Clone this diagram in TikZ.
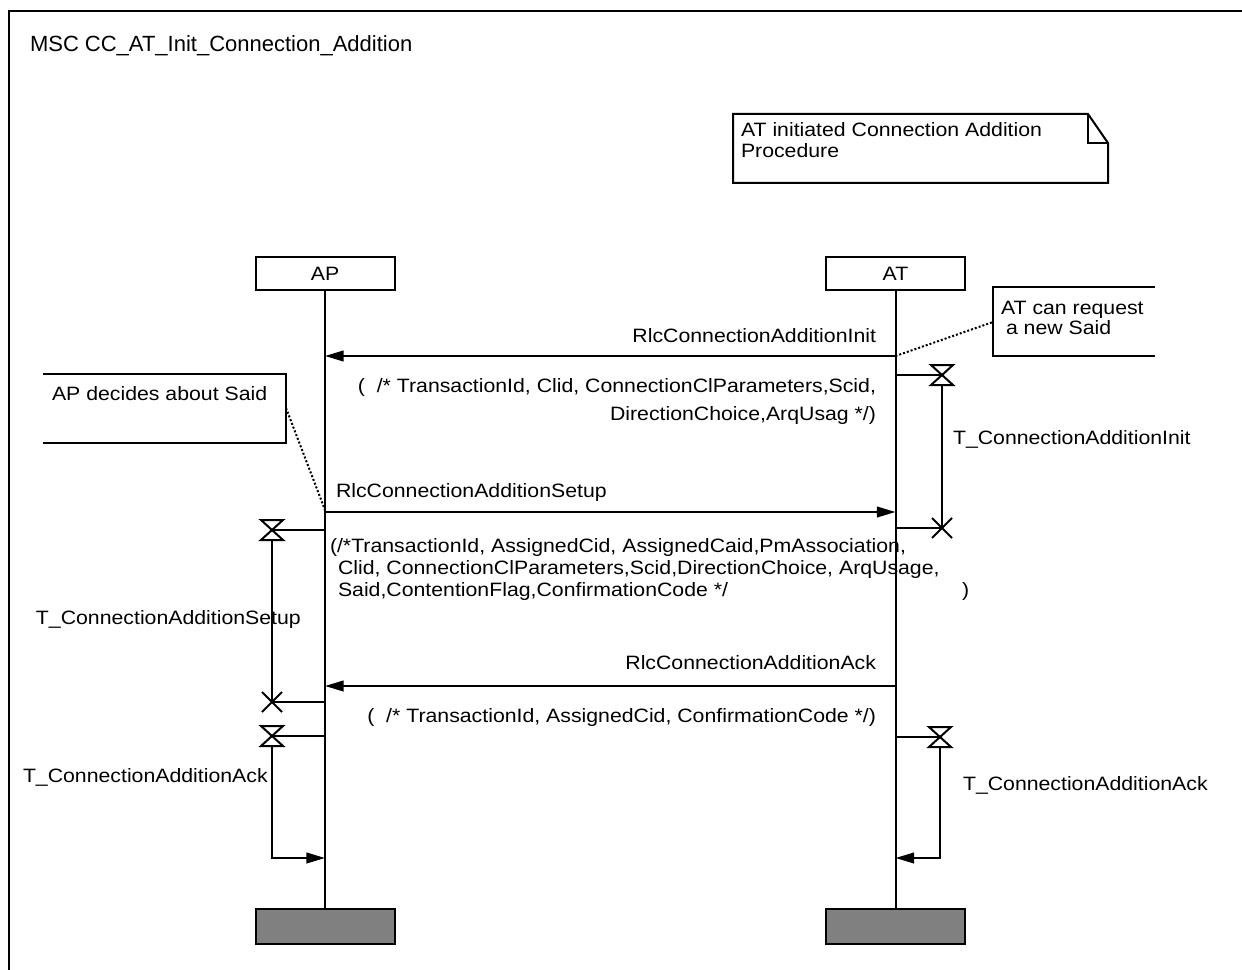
\documentclass[tikz,border=0pt]{standalone}
\usepackage{fontspec}
\setmainfont{Liberation Sans}[FakeStretch=1.1]
\newfontfamily\titlefont{Liberation Sans}
\usetikzlibrary{arrows.meta}
\definecolor{endgray}{RGB}{128,128,128}
\begin{document}
\begin{tikzpicture}[x=0.75pt,y=-0.75pt,line width=1.5pt,
  txt/.style={inner sep=0pt,font=\fontsize{14.5}{15.5}\selectfont},
  inst/.style={draw,minimum width=104.25pt,minimum height=24.75pt,inner sep=0pt,font=\fontsize{14.5}{15.5}\selectfont},
  endbox/.style={draw,fill=endgray,minimum width=104.25pt,minimum height=26.25pt,inner sep=0pt},
  msg/.style={-{Triangle[length=14pt,width=8pt]}},
  cmtline/.style={dash pattern=on 1.5pt off 1.5pt},
  hourglass/.pic={\draw (-11,-10) -- (11,-10) -- (-11,10) -- (11,10) -- cycle;},
  timeout/.pic={\draw (-10,-10) -- (10,10) (-10,10) -- (10,-10);}
]
\useasboundingbox (0,0) rectangle (1242,970);
% frame
\draw (9,970) -- (9,11) -- (1242,11);
\node[inner sep=0pt,anchor=base west,font=\titlefont\fontsize{16.5}{18}\selectfont] (title) at (29,52) {MSC CC\_AT\_Init\_Connection\_Addition};

% note
\draw (733,114) -- (1088,114) -- (1108,143) -- (1108,183) -- (733,183) -- cycle;
\draw (1088,114) -- (1088,143) -- (1108,143);
\node[txt,anchor=base west] (note1) at (740,137) {AT initiated Connection Addition};
\node[txt,anchor=base west] (note2) at (740,158) {Procedure};

% instances
\node[inst] (AP) at (325,273.5) {AP};
\node[inst] (AT) at (895.5,273.5) {AT};
\node[endbox] (APe) at (325,926.5) {};
\node[endbox] (ATe) at (895.5,926.5) {};
\draw (AP.south) -- (APe.north);
\draw (AT.south) -- (ATe.north);

% message 1
\coordinate (at1) at (895.5,356);
\coordinate (ap1) at (325,356);
\draw[msg] (at1) -- (ap1);
\node[txt,anchor=base east] (m1) at (877,342) {RlcConnectionAdditionInit};
\node[txt,anchor=base east] (m1p1) at (877,392) {(\ \ /* TransactionId, Clid, ConnectionClParameters,Scid,};
\node[txt,anchor=base east] (m1p2) at (877,420) {DirectionChoice,ArqUsag */)};

% comment AT
\draw (1155,287) -- (993,287) -- (993,356) -- (1155,356);
\coordinate (c1a) at (993,322);
\node[txt,anchor=base west] (c1t1) at (1000,314) {AT can request};
\node[txt,anchor=base west] (c1t2) at (1005,334) {a new Said};
\draw[cmtline] (at1) -- (c1a);

% timer AT init
\coordinate (at2) at (895.5,375);
\coordinate (t1s) at (942,375);
\coordinate (t1e) at (942,528);
\coordinate (at3) at (895.5,528);
\draw (at2) -- (t1s);
\draw (t1s) ++(0,10) -- (t1e);
\draw (at3) -- (t1e);
\pic at (t1s) {hourglass};
\pic at (t1e) {timeout};
\node[txt,anchor=base west] (t1l) at (952,444) {T\_ConnectionAdditionInit};

% comment AP
\draw (43,374) -- (286,374) -- (286,443) -- (43,443);
\coordinate (c2a) at (286,408);
\coordinate (ap2) at (325,510);
\node[txt,anchor=base west] (c2t) at (51,400) {AP decides about Said};
\draw[cmtline] (c2a) -- (ap2);

% message 2
\coordinate (ap3) at (325,512);
\coordinate (at4) at (895.5,512);
\draw[msg] (ap3) -- (at4);
\node[txt,anchor=base west] (m2) at (335,497) {RlcConnectionAdditionSetup};
\node[txt,anchor=base west] (m2p1) at (329,552) {(/*TransactionId, AssignedCid, AssignedCaid,PmAssociation,};
\node[txt,anchor=base west] (m2p2) at (337,574) {Clid, ConnectionClParameters,Scid,DirectionChoice, ArqUsage,};
\node[txt,anchor=base west] (m2p3) at (337,596) {Said,ContentionFlag,ConfirmationCode */};
\node[txt,anchor=base west] (m2p4) at (961,596) {)};

% timer AP setup
\coordinate (ap4) at (325,530);
\coordinate (t2s) at (272,530);
\coordinate (t2e) at (272,702);
\coordinate (ap5) at (325,702);
\draw (ap4) -- (t2s);
\draw (t2s) ++(0,10) -- (t2e);
\draw (ap5) -- (t2e);
\pic at (t2s) {hourglass};
\pic at (t2e) {timeout};
\node[txt,anchor=base west] (t2l) at (35,624) {T\_ConnectionAdditionSetup};

% message 3
\coordinate (at5) at (895.5,686);
\coordinate (ap6) at (325,686);
\draw[msg] (at5) -- (ap6);
\node[txt,anchor=base east] (m3) at (877,669) {RlcConnectionAdditionAck};
\node[txt,anchor=base east] (m3p) at (877,722) {(\ \ /* TransactionId, AssignedCid, ConfirmationCode */)};

% timer AP ack
\coordinate (ap7) at (325,736);
\coordinate (t3s) at (272,736);
\coordinate (t3e) at (272,858);
\coordinate (ap8) at (325,858);
\draw (ap7) -- (t3s);
\draw[msg] (t3s) ++(0,10) -- (t3e) -- (ap8);
\pic at (t3s) {hourglass};
\node[txt,anchor=base west] (t3l) at (22,782) {T\_ConnectionAdditionAck};

% timer AT ack
\coordinate (at6) at (895.5,737);
\coordinate (t4s) at (940,737);
\coordinate (t4e) at (940,858);
\coordinate (at7) at (895.5,858);
\draw (at6) -- (t4s);
\draw[msg] (t4s) ++(0,10) -- (t4e) -- (at7);
\pic at (t4s) {hourglass};
\node[txt,anchor=base west] (t4l) at (962,790) {T\_ConnectionAdditionAck};
\end{tikzpicture}
\end{document}
